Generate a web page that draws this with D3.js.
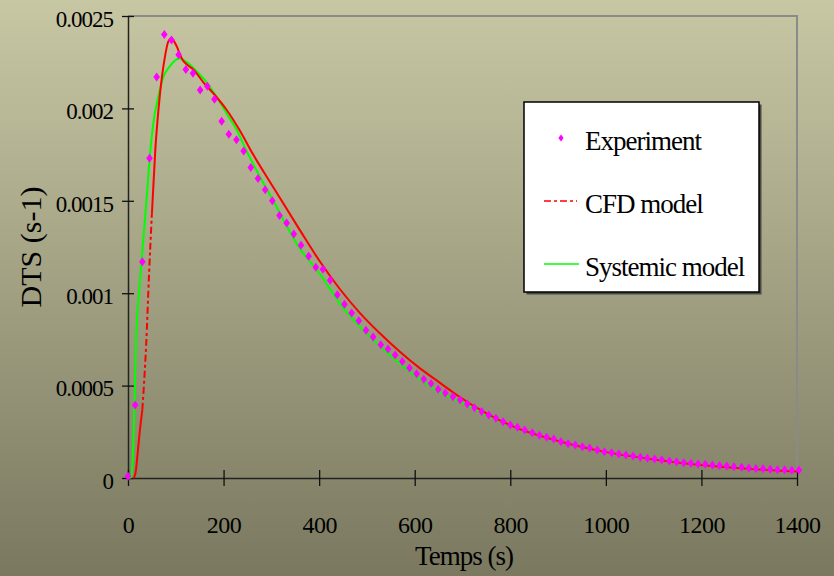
<!doctype html>
<html>
<head>
<meta charset="utf-8">
<style>
    body { margin: 0; }
    svg text { font-family: "Liberation Serif", "Times New Roman", serif; fill: #000; }
</style>
<script src="https://d3js.org/d3.v7.min.js"></script>
</head>
<body>
<svg id="chart" width="834" height="576"></svg>
<script>

// experiment: one sample every ~15 s
var expTime = [0, 15, 30, 45, 60, 76, 91, 106, 121, 136, 151, 166, 181, 196, 211, 227, 242, 257, 272, 287,
    302, 317, 332, 347, 362, 378, 393, 408, 423, 438, 453, 468, 483, 498, 513, 529, 544, 559, 574, 589,
    604, 619, 634, 649, 664, 680, 695, 710, 725, 740, 755, 770, 785, 800, 815, 830, 846, 861, 876, 891,
    906, 921, 936, 951, 966, 982, 997, 1012, 1027, 1042, 1057, 1072, 1087, 1102, 1117, 1133, 1148, 1163, 1178, 1193,
    1208, 1223, 1238, 1253, 1268, 1284, 1299, 1314, 1329, 1344, 1359, 1374, 1389, 1404];
var expValue = [0.00001, 0.000395, 0.00117, 0.00173, 0.00217, 0.00240, 0.00237, 0.00229, 0.00221, 0.00219,
    0.00210, 0.00212, 0.00205, 0.00193, 0.00186, 0.00183, 0.00177, 0.00168, 0.00162, 0.00156,
    0.00150, 0.00142, 0.00138, 0.00132, 0.00126, 0.00120, 0.00114, 0.00113, 0.00107, 0.000992,
    0.000940, 0.000893, 0.000851, 0.000799, 0.000763, 0.000721, 0.000698, 0.000666, 0.000631, 0.000595,
    0.000564, 0.000534, 0.000512, 0.000480, 0.000460, 0.000440, 0.000422, 0.000400, 0.000380, 0.000360,
    0.000341, 0.000323, 0.000305, 0.000287, 0.000274, 0.000260, 0.000245, 0.000231, 0.000220, 0.000211,
    0.000196, 0.000186, 0.000179, 0.000169, 0.000162, 0.000152, 0.000142, 0.000137, 0.000130, 0.000124,
    0.000119, 0.000112, 0.000107, 0.000103, 0.000099, 0.000092, 0.000088, 0.000083, 0.000080, 0.000076,
    0.000074, 0.000070, 0.000067, 0.000065, 0.000061, 0.000058, 0.000054, 0.000052, 0.000050, 0.000047,
    0.000045, 0.000045, 0.000042, 0.000043];

var cfdTime = [11, 14, 17, 20, 25, 30, 33, 38, 44, 50, 57, 64, 71, 78, 84, 91, 97, 103, 109, 115,
    122, 137, 158, 179, 207, 234, 262, 300, 360, 402, 444, 486, 527, 569, 611, 653, 688, 750, 800,
    900, 1000, 1100, 1200, 1300, 1400];
var cfdValue = [0, 0.00001, 0.00005, 0.00013, 0.00026, 0.00037, 0.00049, 0.00072, 0.00110, 0.00143,
    0.00177, 0.00200, 0.00217, 0.00229, 0.00236, 0.00238, 0.00236, 0.00233, 0.00229, 0.00226,
    0.00224, 0.00221, 0.00214, 0.00208, 0.00199, 0.00188, 0.00175, 0.00159, 0.00134, 0.00117,
    0.00102, 0.000891, 0.000783, 0.000683, 0.000593, 0.000515, 0.000449, 0.000350, 0.000285,
    0.000200, 0.000140, 0.000100, 0.000070, 0.000050, 0.000035];
// the CFD line looks dashed only where its points are far apart
var cfdDashFrom = 30, cfdDashTo = 50;

var sysTime = [0, 7, 11, 14, 17, 24, 32, 39, 46, 53, 63, 74, 88, 107, 123, 144, 165, 186, 207, 228,
    248, 304, 360, 400, 450, 500, 550, 600, 650, 700, 800, 900, 1000, 1100, 1200, 1300, 1400];
var sysValue = [0, 0.000005, 0.00017, 0.00045, 0.00075, 0.00103, 0.00129, 0.00151, 0.00175, 0.00192,
    0.00206, 0.00217, 0.00223, 0.00227, 0.00225, 0.00220, 0.00214, 0.00206, 0.00197, 0.00188,
    0.00177, 0.00150, 0.00124, 0.00111, 0.00092, 0.00078, 0.00066, 0.000555, 0.000468, 0.000405,
    0.000282, 0.000197, 0.000139, 0.000100, 0.000074, 0.000055, 0.000041];

var xTicks = [0, 200, 400, 600, 800, 1000, 1200, 1400];
var yTicks = [0, 0.0005, 0.001, 0.0015, 0.002, 0.0025];
var yTickLabels = ["0", "0.0005", "0.001", "0.0015", "0.002", "0.0025"];
var legendNames = ["Experiment", "CFD model", "Systemic model"];

var svg = d3.select("#chart");
var plotLeft = 128, plotRight = 797, plotTop = 16, plotBottom = 478;

var x = d3.scaleLinear().domain([0, 1400]).range([plotLeft, plotRight]);
var y = d3.scaleLinear().domain([0, 0.0025]).range([plotBottom, plotTop]);

// background
var grad = svg.append("defs").append("linearGradient")
    .attr("id", "bg").attr("x1", 0).attr("y1", 0).attr("x2", 0).attr("y2", 1);
grad.append("stop").attr("offset", "0%").attr("stop-color", "#c8c7a4");
grad.append("stop").attr("offset", "100%").attr("stop-color", "#7a7960");
svg.append("rect").attr("width", 834).attr("height", 576).attr("fill", "url(#bg)");

// grey frame on top and right
svg.append("path")
    .attr("d", "M" + plotLeft + "," + plotTop + "H" + plotRight + "V" + plotBottom)
    .attr("fill", "none").attr("stroke", "#8a8a86").attr("stroke-width", 2);

// axes
var yAxis = svg.append("g")
    .attr("transform", "translate(" + plotLeft + ",0)")
    .call(d3.axisLeft(y).tickValues(yTicks).tickSizeOuter(0)
        .tickFormat(function(d, i) { return yTickLabels[i]; }));
var xAxis = svg.append("g")
    .attr("transform", "translate(0," + plotBottom + ")")
    .call(d3.axisBottom(x).tickValues(xTicks).tickSizeOuter(0)
        .tickFormat(function(d) { return d; }));

[yAxis, xAxis].forEach(function(a) {
    a.attr("font-family", null).attr("font-size", null);
    a.select(".domain").attr("stroke", "#222").attr("stroke-width", 1.5);
    a.selectAll(".tick line").attr("stroke", "#111").attr("stroke-width", 1.3);
});
yAxis.selectAll(".tick line").attr("x1", -6).attr("x2", 6);
xAxis.selectAll(".tick line").attr("y1", -8).attr("y2", 8);

yAxis.selectAll(".tick text")
    .attr("font-size", "23px").attr("letter-spacing", "-1px")
    .attr("x", -15).attr("dy", "0.45em").attr("fill", "#000");
xAxis.selectAll(".tick text")
    .attr("font-size", "24px").attr("letter-spacing", "-0.5px")
    .attr("y", 55).attr("dy", 0).attr("fill", "#000");

svg.append("text")
    .attr("x", 464).attr("y", 565)
    .attr("text-anchor", "middle")
    .attr("font-size", "27px").attr("letter-spacing", "-1px")
    .text("Temps (s)");

svg.append("text")
    .attr("transform", "translate(41,247) rotate(-90)")
    .attr("text-anchor", "middle")
    .attr("font-size", "30px")
    .text("DTS (s-1)");

// series
var line = d3.line()
    .x(function(d) { return x(d.t); })
    .y(function(d) { return y(d.v); })
    .curve(d3.curveMonotoneX);

var sysData = sysTime.map(function(t, i) { return {t: t, v: sysValue[i]}; });
var cfdData = cfdTime.map(function(t, i) { return {t: t, v: cfdValue[i]}; });
var expData = expTime.map(function(t, i) { return {t: t, v: expValue[i]}; });

svg.append("path").datum(sysData)
    .attr("d", line)
    .attr("fill", "none").attr("stroke", "#00ff00").attr("stroke-width", 2);

var cfdParts = [
    {data: cfdData.filter(function(d) { return d.t <= cfdDashFrom; }), dash: null},
    {data: cfdData.filter(function(d) { return d.t >= cfdDashFrom && d.t <= cfdDashTo; }), dash: "7,3,3,3"},
    {data: cfdData.filter(function(d) { return d.t >= cfdDashTo; }), dash: null}
];
cfdParts.forEach(function(p) {
    svg.append("path").datum(p.data)
        .attr("d", line)
        .attr("fill", "none").attr("stroke", "#ff0000").attr("stroke-width", 2)
        .attr("stroke-dasharray", p.dash);
});

var diamond = "M0,-4.5L3.3,0L0,4.5L-3.3,0Z";
svg.selectAll(".exp")
    .data(expData)
    .enter().append("path")
    .attr("class", "exp")
    .attr("d", diamond)
    .attr("transform", function(d) { return "translate(" + x(d.t) + "," + y(d.v) + ")"; })
    .attr("fill", "#ff00ff");

// legend
var lg = svg.append("g").attr("transform", "translate(524,102)");
lg.append("rect").attr("x", 2.5).attr("y", 2.5).attr("width", 235).attr("height", 190).attr("fill", "#4a4a44");
lg.append("rect").attr("width", 235).attr("height", 190)
    .attr("fill", "#fff").attr("stroke", "#000").attr("stroke-width", 1.5);

var rowY = [36, 99, 162];
lg.append("path").attr("d", "M0,-3.5L2.6,0L0,3.5L-2.6,0Z")
    .attr("transform", "translate(37," + rowY[0] + ")").attr("fill", "#ff00ff");
lg.append("line").attr("x1", 20).attr("x2", 53).attr("y1", rowY[1]).attr("y2", rowY[1])
    .attr("stroke", "#ff0000").attr("stroke-width", 1.5).attr("stroke-dasharray", "7,3,3,3");
lg.append("line").attr("x1", 20).attr("x2", 55).attr("y1", rowY[2]).attr("y2", rowY[2])
    .attr("stroke", "#00ff00").attr("stroke-width", 1.5);

lg.selectAll(".lab")
    .data(legendNames)
    .enter().append("text")
    .attr("class", "lab")
    .attr("x", 61)
    .attr("y", function(d, i) { return rowY[i] + 12; })
    .attr("font-size", "27px").attr("letter-spacing", "-1px")
    .text(function(d) { return d; });

</script>
</body>
</html>
